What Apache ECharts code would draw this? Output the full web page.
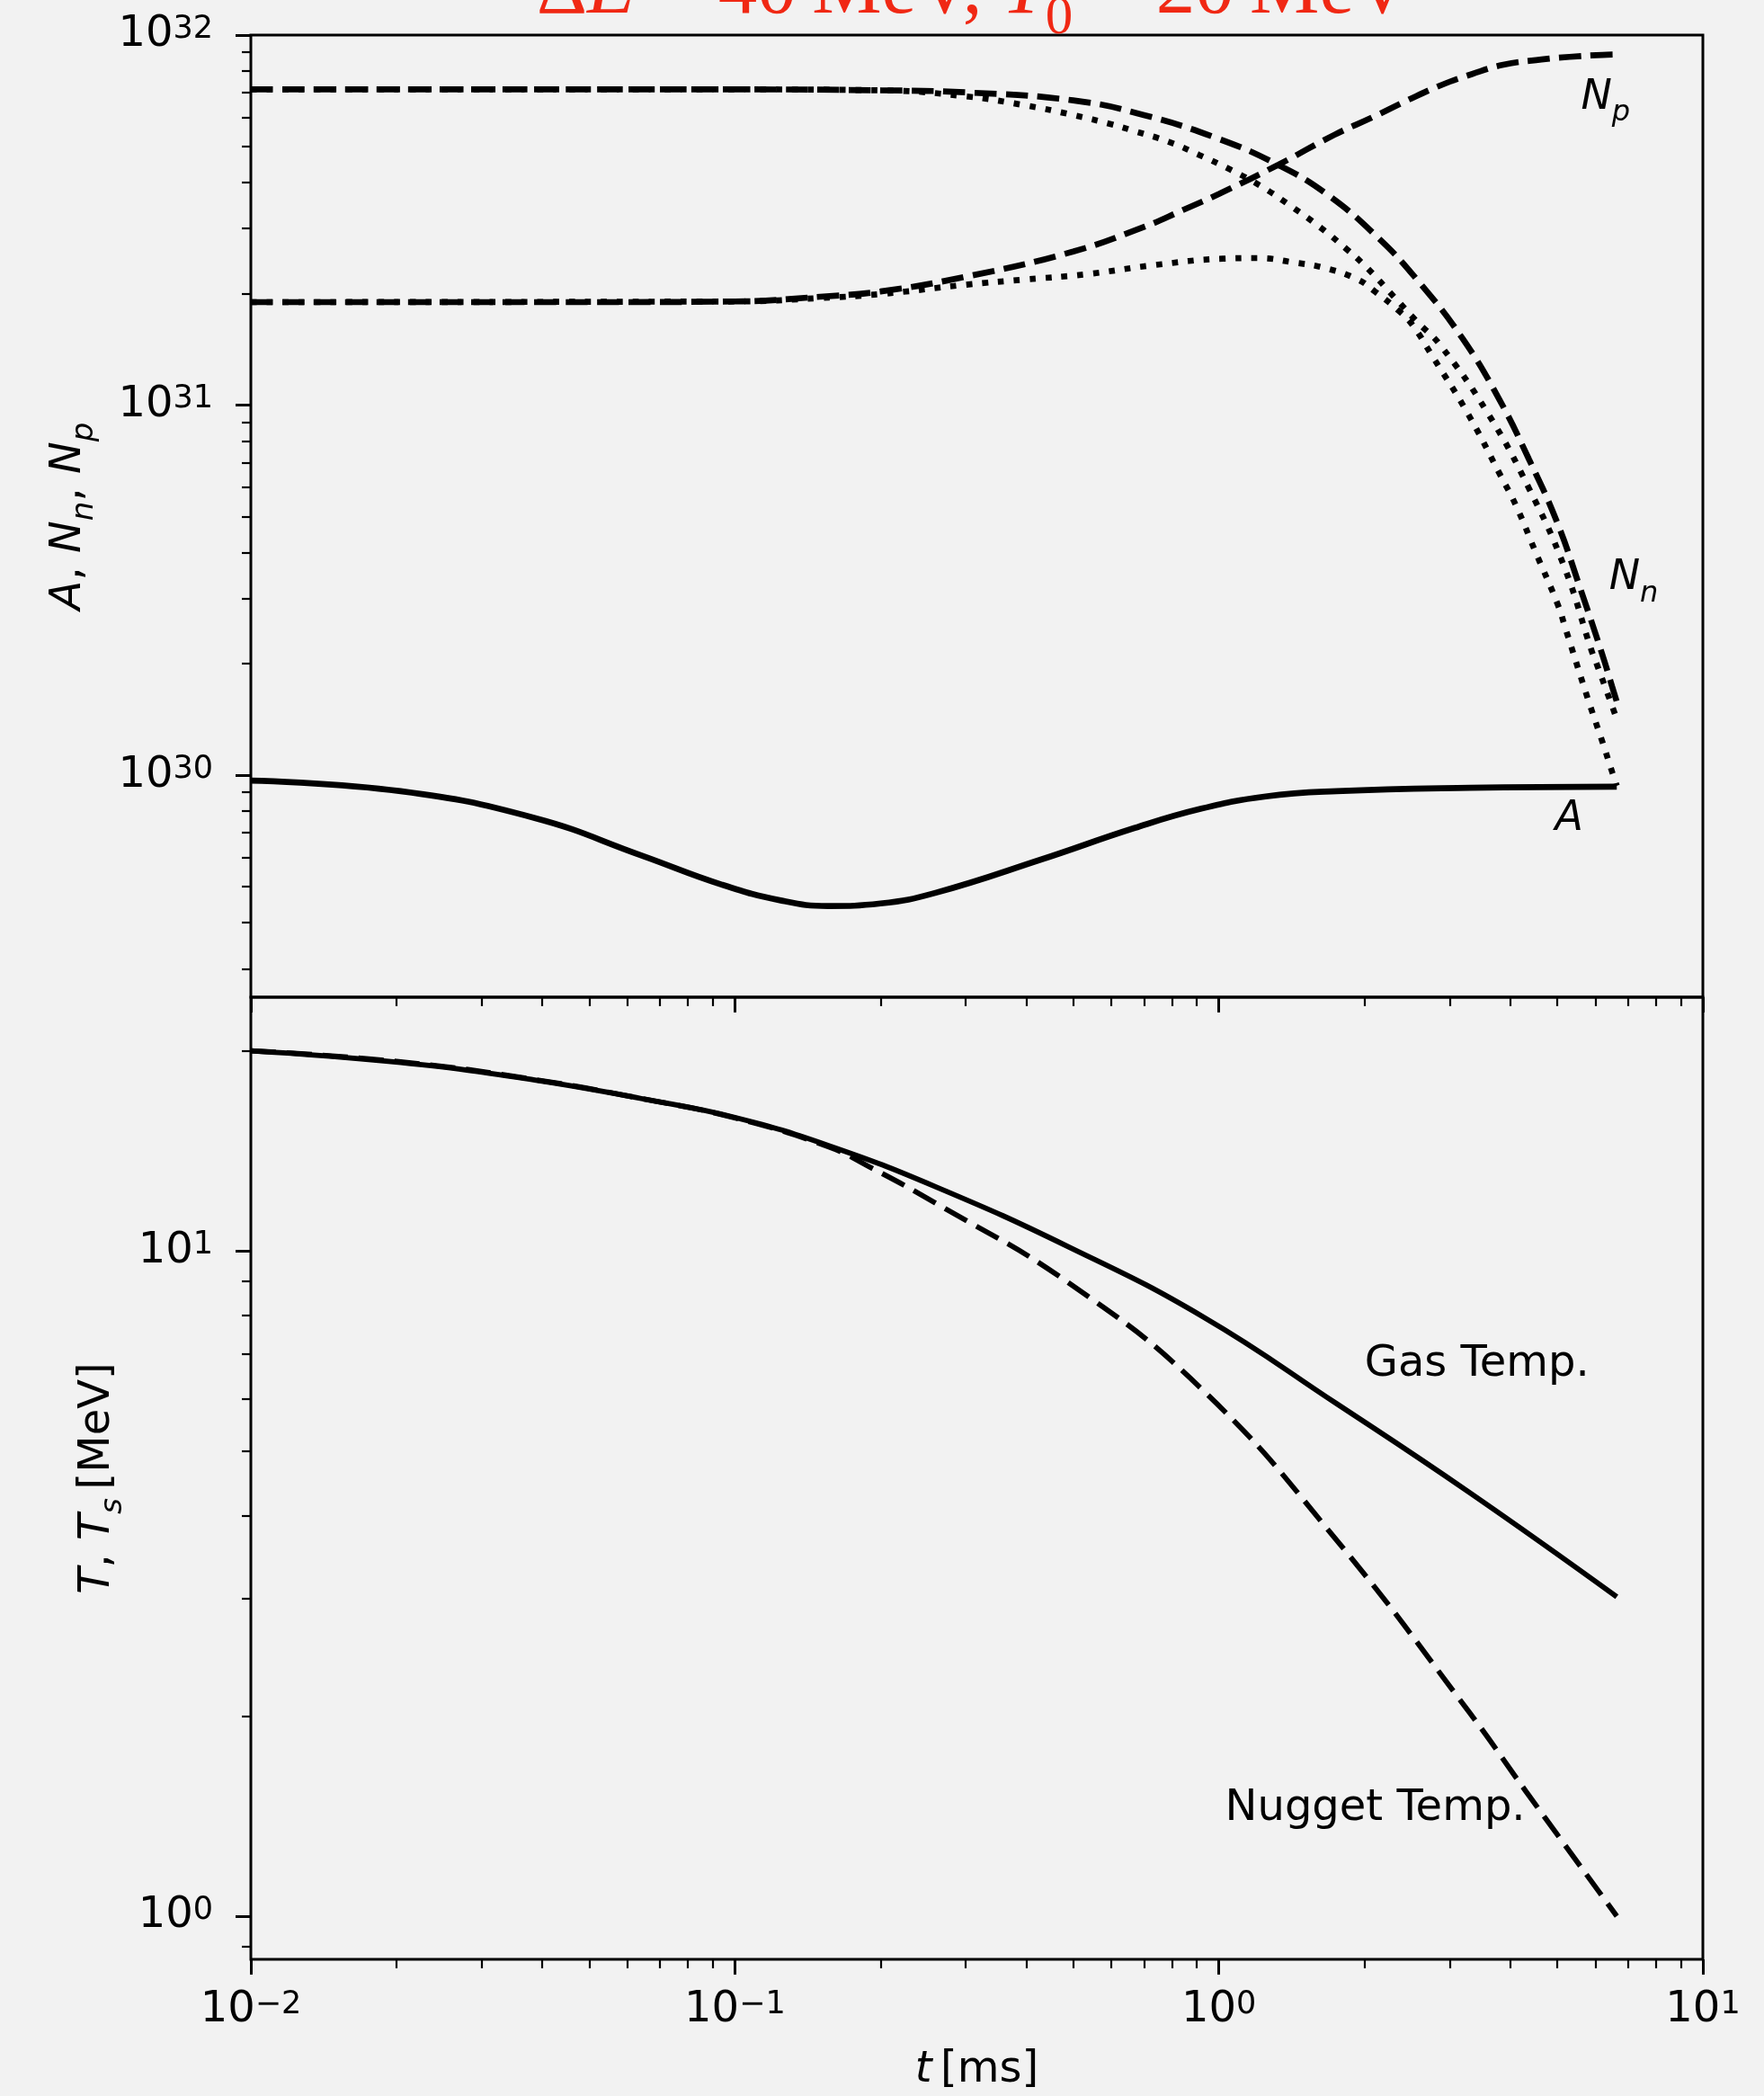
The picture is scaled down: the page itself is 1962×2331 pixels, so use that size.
<!DOCTYPE html>
<html><head><meta charset="utf-8">
<script src="https://cdn.jsdelivr.net/npm/echarts@6/dist/echarts.min.js"></script>
<style>html,body{margin:0;padding:0;background:#f2f2f2;}#chart{width:1962px;height:2331px;}</style>
</head><body><div id="chart"></div>
<script>
// ---------------- data ----------------
// top panel: A, N_n, N_p versus t [ms]
const tA  = [0.01, 0.0204, 0.0386, 0.0641, 0.094, 0.125, 0.156, 0.2, 0.26, 0.43, 0.67, 0.92, 1.25, 1.75, 3.3, 6.64];
const A   = [9.67e29, 9.05e29, 7.66e29, 6.07e29, 5.06e29, 4.58e29, 4.43e29, 4.50e29, 4.81e29, 5.92e29, 7.2e29, 8.12e29, 8.76e29, 9.05e29, 9.24e29, 9.31e29];
const tNn = [0.01, 0.05, 0.1, 0.2, 0.3, 0.5, 0.7, 1.0, 1.32, 1.67, 2.135, 2.6, 3.19, 3.785, 4.37, 5.0, 5.57, 6.19, 6.49, 6.64];
const Nn  = [7.13e31, 7.13e31, 7.13e31, 7.09e31, 7.00e31, 6.66e31, 6.08e31, 5.24e31, 4.47e31, 3.72e31, 2.83e31, 2.14e31, 1.512e31, 1.044e31, 7.15e30, 4.82e30, 3.22e30, 2.13e30, 1.74e30, 1.58e30];
const tNp = [0.01, 0.05, 0.1, 0.15, 0.2, 0.3, 0.5, 0.7, 0.84, 1.0, 1.33, 1.73, 2.08, 2.45, 2.87, 3.33, 3.87, 4.64, 5.3, 6.2, 6.64];
const Np  = [1.898e31, 1.898e31, 1.906e31, 1.963e31, 2.029e31, 2.223e31, 2.60e31, 3.03e31, 3.36e31, 3.72e31, 4.47e31, 5.37e31, 6.00e31, 6.66e31, 7.31e31, 7.84e31, 8.31e31, 8.59e31, 8.73e31, 8.84e31, 8.86e31];
const tD1 = [0.01, 0.1, 0.2, 0.3, 0.4, 0.5, 0.6, 0.667, 0.787, 0.912, 1.056, 1.224, 1.418, 1.616, 1.83, 2.03, 2.3, 2.556, 2.864, 3.6, 4.38, 5.17, 5.89, 6.05, 6.64];
const D1  = [7.13e31, 7.13e31, 7.09e31, 6.83e31, 6.45e31, 6.08e31, 5.74e31, 5.51e31, 5.15e31, 4.74e31, 4.33e31, 3.90e31, 3.43e31, 3.03e31, 2.65e31, 2.34e31, 1.963e31, 1.69e31, 1.455e31, 9.48e30, 5.93e30, 3.66e30, 2.17e30, 1.98e30, 1.418e30];
const tD2 = [0.01, 0.1, 0.15, 0.2, 0.3, 0.4, 0.531, 0.737, 1.02, 1.204, 1.418, 1.656, 1.936, 2.1, 2.37, 2.52, 2.753, 3.27, 3.82, 4.12, 4.5, 5.01, 5.21, 5.8, 6.2, 6.5, 6.64];
const D2  = [1.898e31, 1.906e31, 1.947e31, 1.996e31, 2.115e31, 2.186e31, 2.257e31, 2.391e31, 2.487e31, 2.497e31, 2.433e31, 2.346e31, 2.186e31, 2.029e31, 1.784e31, 1.637e31, 1.365e31, 9.48e30, 6.45e30, 5.32e30, 4.04e30, 2.90e30, 2.475e30, 1.593e30, 1.231e30, 1.017e30, 9.36e29];
// bottom panel: temperatures [MeV]
const tGas = [0.01, 0.0204, 0.0386, 0.0641, 0.1, 0.156, 0.26, 0.49, 0.926, 1.748, 3.30, 6.64];
const Gas  = [20.0, 19.2, 18.08, 16.95, 15.88, 14.41, 12.49, 10.14, 7.97, 5.90, 4.33, 3.02];
const tNug = [0.01, 0.0204, 0.0386, 0.0641, 0.1, 0.156, 0.189, 0.26, 0.49, 0.926, 1.748, 3.30, 4.31, 6.64];
const Nug  = [20.0, 19.25, 18.1, 16.95, 15.85, 14.35, 13.4, 11.8, 8.95, 6.18, 3.68, 2.02, 1.54, 1.0];
// ticks
const xMajor = [0.01, 0.1, 1, 10];
const xMinor = [0.02,0.03,0.04,0.05,0.06,0.07,0.08,0.09,0.2,0.3,0.4,0.5,0.6,0.7,0.8,0.9,2,3,4,5,6,7,8,9];
const yTopMajor = [1e30, 1e31, 1e32];
const yTopMinor = [3e29,4e29,5e29,6e29,7e29,8e29,9e29,2e30,3e30,4e30,5e30,6e30,7e30,8e30,9e30,2e31,3e31,4e31,5e31,6e31,7e31,8e31,9e31];
const yBotMajor = [1, 10];
const yBotMinor = [0.9,2,3,4,5,6,7,8,9,20];
// text labels anchored in data coordinates (left / baseline)
const topLabels = [{txt:'{i|N}{s|p}', t:5.6, v:6.1e31}, {txt:'{i|N}{s|n}', t:6.4, v:3.06e30}, {txt:'{i|A}', t:4.95, v:6.84e29}];
const botLabels = [{txt:'Gas Temp.', t:2.0, v:6.47}, {txt:'Nugget Temp.', t:1.03, v:1.39}];
const titleText = '{r|\u0394}{it|E}{r| = 40\u2009MeV, }{it|T}{sub|0}{r| = 20\u2009MeV}';

// ---------------- chart ----------------
const FONT = 'DejaVu Sans';
const zip = (t, v) => t.map((x, i) => [x, v[i]]);
const supFmt = v => { const e = Math.round(Math.log10(v)); return '10{s|' + (e < 0 ? '\u2212' + (-e) : e) + '}'; };
const labelStyle = (margin) => ({show:true, margin, fontFamily:FONT, fontSize:48, lineHeight:48, color:'#000', formatter:supFmt,
  rich:{s:{fontFamily:FONT, fontSize:35, lineHeight:25, verticalAlign:'top', color:'#000'}}});
const majTick = vals => ({show:true, inside:false, length:17, customValues:vals, lineStyle:{color:'#000', width:3}});
const minTick = vals => ({show:true, inside:false, length:10, customValues:vals, lineStyle:{color:'#000', width:2.2}});
const base = {type:'log', logBase:10, axisLine:{show:false, onZero:false}, splitLine:{show:false}, minorTick:{show:false}, minorSplitLine:{show:false}};
const yTop = {min:Math.pow(10,29.4), max:1e32};
const yBot = {min:Math.pow(10,-0.065), max:Math.pow(10,1.3816)};
const nameStyle = {fontFamily:FONT, fontSize:48, lineHeight:58, color:'#000',
  rich:{i:{fontFamily:FONT, fontStyle:'italic', fontSize:48, lineHeight:58, verticalAlign:'top', color:'#000'},
        u:{fontFamily:FONT, fontSize:48, lineHeight:58, verticalAlign:'top', color:'#000'},
        s:{fontFamily:FONT, fontStyle:'italic', fontSize:34, lineHeight:34, verticalAlign:'bottom', color:'#000'}}};

const W = 6.7;
const lineSeries = (name, t, v, xi, yi, type, width) => ({
  name, type:'line', xAxisIndex:xi, yAxisIndex:yi, data:zip(t, v), symbol:'none', showSymbol:false,
  smooth:0.45, silent:true, lineStyle:{color:'#000', width, type, cap:'butt'}
});

const gridBase = {left:279, width:1615, height:1070, show:true, borderColor:'#000', borderWidth:3,
  backgroundColor:'transparent', containLabel:false, outerBoundsMode:'none'};
const option = {
  backgroundColor:'#f2f2f2', animation:false,
  grid:[ Object.assign({top:39}, gridBase), Object.assign({top:1109}, gridBase) ],
  xAxis:[
    Object.assign({}, base, {gridIndex:0, position:'bottom', min:0.01, max:10, axisTick:majTick(xMajor), axisLabel:{show:false}}),
    Object.assign({}, base, {gridIndex:1, position:'bottom', min:0.01, max:10, axisTick:majTick(xMajor),
      axisLabel:Object.assign(labelStyle(33), {customValues:xMajor}),
      name:'{i|t}{u|\u2009[ms]}', nameLocation:'middle', nameGap:100, nameTextStyle:nameStyle}),
    Object.assign({}, base, {gridIndex:0, position:'bottom', min:0.01, max:10, axisTick:minTick(xMinor), axisLabel:{show:false}}),
    Object.assign({}, base, {gridIndex:1, position:'bottom', min:0.01, max:10, axisTick:minTick(xMinor), axisLabel:{show:false}})
  ],
  yAxis:[
    Object.assign({}, base, yTop, {gridIndex:0, position:'left', axisTick:majTick(yTopMajor),
      axisLabel:Object.assign(labelStyle(42), {customValues:yTopMajor}),
      name:'{i|A}{u|, }{i|N}{s|n}{u|, }{i|N}{s|p}', nameLocation:'middle', nameRotate:90, nameGap:168, nameTextStyle:nameStyle}),
    Object.assign({}, base, yBot, {gridIndex:1, position:'left', axisTick:majTick(yBotMajor),
      axisLabel:Object.assign(labelStyle(42), {customValues:yBotMajor}),
      name:'{i|T}{u|, }{i|T}{s|s}{u|\u2009[MeV]}', nameLocation:'middle', nameRotate:90, nameGap:134, nameTextStyle:nameStyle}),
    Object.assign({}, base, yTop, {gridIndex:0, position:'left', axisTick:minTick(yTopMinor), axisLabel:{show:false}}),
    Object.assign({}, base, yBot, {gridIndex:1, position:'left', axisTick:minTick(yBotMinor), axisLabel:{show:false}})
  ],
  series:[
    lineSeries('A', tA, A, 0, 0, 'solid', W),
    lineSeries('Nn', tNn, Nn, 0, 0, [24.5, 10.5], W),
    lineSeries('Np', tNp, Np, 0, 0, [24.5, 10.5], W),
    lineSeries('Nn dotted', tD1, D1, 0, 0, [W, 11], W),
    lineSeries('Np dotted', tD2, D2, 0, 0, [W, 11], W),
    lineSeries('Gas', tGas, Gas, 1, 1, 'solid', 5.8),
    lineSeries('Nugget', tNug, Nug, 1, 1, [28, 12], 5.8)
  ]
};

const chart = echarts.init(document.getElementById('chart'), null, {renderer:'canvas'});
chart.setOption(option);

const labRich = {
  i:{fontFamily:FONT, fontStyle:'italic', fontSize:46, lineHeight:56, verticalAlign:'top', fill:'#000'},
  s:{fontFamily:FONT, fontStyle:'italic', fontSize:32, lineHeight:32, verticalAlign:'bottom', fill:'#000'}
};
const graphics = [];
topLabels.forEach(l => {
  const p = chart.convertToPixel({xAxisIndex:0, yAxisIndex:0}, [l.t, l.v]);
  graphics.push({type:'text', x:p[0], y:p[1] - 41.7, silent:true,
    style:{text:l.txt, rich:labRich, fontFamily:FONT, fontSize:46, lineHeight:56, align:'left', verticalAlign:'top', fill:'#000'}});
});
botLabels.forEach(l => {
  const p = chart.convertToPixel({xAxisIndex:1, yAxisIndex:1}, [l.t, l.v]);
  graphics.push({type:'text', x:p[0], y:p[1] - 42.5, silent:true,
    style:{text:l.txt, fontFamily:FONT, fontSize:48, lineHeight:58, align:'left', verticalAlign:'top', fill:'#000'}});
});
const TF = 'Liberation Serif', RED = '#f02814';
graphics.push({type:'text', x:1083, y:-52, silent:true, z:10,
  style:{text:titleText, align:'center', verticalAlign:'top', fontFamily:TF, fontSize:87, lineHeight:103, fill:RED,
    rich:{r:{fontFamily:TF, fontSize:87, lineHeight:103, verticalAlign:'top', fill:RED},
          it:{fontFamily:TF, fontStyle:'italic', fontSize:87, lineHeight:103, verticalAlign:'top', fill:RED},
          sub:{fontFamily:TF, fontSize:61, lineHeight:44, verticalAlign:'bottom', fill:RED}}}});
chart.setOption({graphic:graphics});
</script></body></html>
